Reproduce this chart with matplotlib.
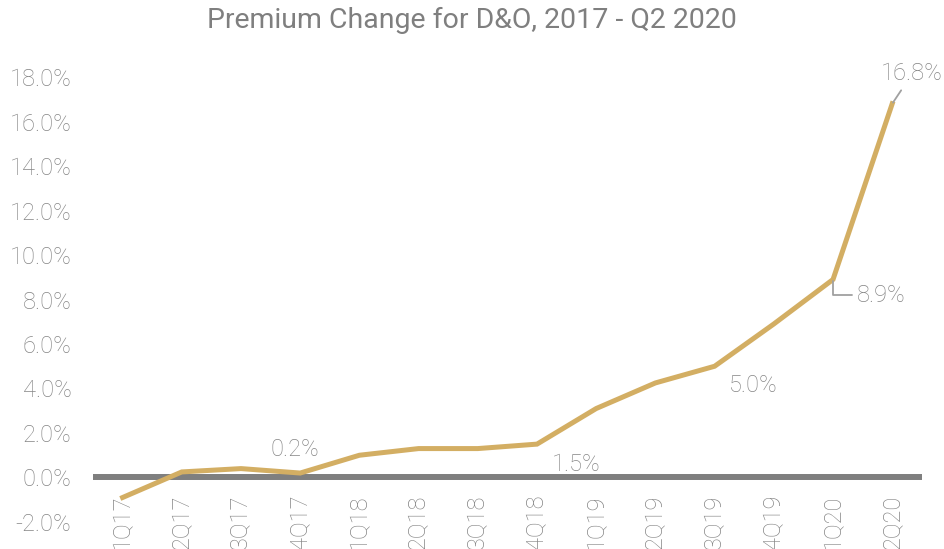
import matplotlib.pyplot as plt
from matplotlib.ticker import FuncFormatter

# Datos
quarters = ['1Q17', '2Q17', '3Q17', '4Q17', '1Q18', '2Q18', '3Q18', '4Q18',
            '1Q19', '2Q19', '3Q19', '4Q19', '1Q20', '2Q20']
premium_change = [-0.9, 0.25, 0.4, 0.2, 1.0, 1.3, 1.3, 1.5,
                  3.1, 4.25, 5.0, 6.9, 8.9, 16.8]
labeled_idx = [3, 7, 10, 12, 13]

GOLD = '#d3ae63'
GRAY = '#7f7f7f'
TEXT = '#858585'

plt.rcParams['font.family'] = ['Roboto', 'DejaVu Sans']

fig = plt.figure(figsize=(9.44, 5.49), dpi=100)
ax = fig.add_axes([0.0985, 0.0492, 0.878, 0.8105])

x = list(range(len(quarters)))
ax.axhline(0, color=GRAY, linewidth=4.3, zorder=1)
ax.plot(x, premium_change, color=GOLD, linewidth=3.6, solid_joinstyle='miter', zorder=2)

ax.set_xlim(-0.5, len(quarters) - 0.5)
ax.set_ylim(-2, 18)
ax.set_yticks(range(-2, 19, 2))
ax.yaxis.set_major_formatter(FuncFormatter(lambda v, p: f'{v:.1f}%'))
ax.tick_params(axis='y', length=0, pad=15.5, labelsize=17, labelcolor=TEXT)
for lbl in ax.get_yticklabels():
    lbl.set_fontweight('light')
ax.set_xticks([])
for s in ax.spines.values():
    s.set_visible(False)

# Etiquetas del eje x debajo de la linea cero
for i, q in enumerate(quarters):
    ax.annotate(q, (i, 0), xytext=(0, -12.5), textcoords='offset points',
                rotation=90, ha='center', va='top', fontsize=17,
                fontweight='light', color=TEXT, annotation_clip=False)

# Etiquetas de datos
offsets = {3: (-3.6, 16.6), 7: (28, -14.4), 10: (28, -13.7), 12: (35, -11.5), 13: (14.4, 21.6)}
for i in labeled_idx:
    v = premium_change[i]
    arrow = None
    if i == 12:
        arrow = dict(arrowstyle='-', color='#a0a0a0', lw=1.3,
                     connectionstyle='angle,angleA=0,angleB=90,rad=0', shrinkB=1)
    elif i == 13:
        arrow = dict(arrowstyle='-', color='#a0a0a0', lw=1.3, shrinkA=2, shrinkB=1)
    ax.annotate(f'{v:.1f}%', (i, v), xytext=offsets[i], textcoords='offset points',
                ha='center', va='center', fontsize=17, fontweight='light',
                color=TEXT, arrowprops=arrow, annotation_clip=False)

fig.suptitle('Premium Change for D&O, 2017 - Q2 2020', x=0.5, y=0.988,
             fontsize=20.5, color=GRAY, va='top')

plt.savefig('out.png', dpi=100)
